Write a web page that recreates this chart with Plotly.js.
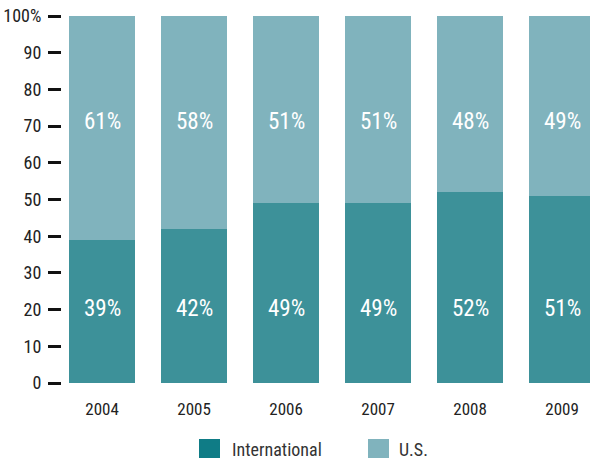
<!DOCTYPE html>
<html><head><meta charset="utf-8">
<script src="https://cdn.plot.ly/plotly-3.0.1.min.js"></script>
<style>html,body{margin:0;padding:0;background:#fff}#chart{width:590px;height:459px}</style>
</head><body><div id="chart"></div>
<script>
var years = ['2004','2005','2006','2007','2008','2009'];
var international = [39, 42, 49, 49, 52, 51];
var us = [61, 58, 51, 51, 48, 49];
var seriesNames = ['International', 'U.S.'];
var yTickVals = [0,10,20,30,40,50,60,70,80,90,100];
var yTickText = ['0','10','20','30','40','50','60','70','80','90','100%'];

var FONT = '"Liberation Sans Narrow", "Roboto Condensed", Roboto, sans-serif';
var cIntl = '#3d9199', cUS = '#80b3bd';
var cIntlLegend = '#0f7c86';

var traces = [
  {type:'bar', x: years, y: international, name: seriesNames[0], marker:{color:cIntl}, hoverinfo:'none'},
  {type:'bar', x: years, y: us, name: seriesNames[1], marker:{color:cUS}, hoverinfo:'none'}
];

var annotations = [];
years.forEach(function(yr, i){
  annotations.push({x: i, y: 20.3, xref:'x', yref:'y', text: international[i] + '%', showarrow:false,
    font:{family:FONT, size:23, color:'#ffffff'}});
  annotations.push({x: i, y: 71.3, xref:'x', yref:'y', text: us[i] + '%', showarrow:false,
    font:{family:FONT, size:23, color:'#ffffff'}});
});
annotations.push({xref:'paper', yref:'paper', x:(230-62)/528, y:-(449-383)/367, xanchor:'left', yanchor:'middle',
  text: seriesNames[0], showarrow:false, font:{family:FONT, size:18, color:'#333'}});
annotations.push({xref:'paper', yref:'paper', x:(397-62)/528, y:-(449-383)/367, xanchor:'left', yanchor:'middle',
  text: seriesNames[1], showarrow:false, font:{family:FONT, size:18, color:'#333'}});

var shapes = [
  {type:'rect', xref:'paper', yref:'paper', x0:(199-62)/528, x1:(220-62)/528, y0:-(458-383)/367, y1:-(439-383)/367,
   fillcolor:cIntlLegend, line:{width:0}},
  {type:'rect', xref:'paper', yref:'paper', x0:(368-62)/528, x1:(389-62)/528, y0:-(458-383)/367, y1:-(439-383)/367,
   fillcolor:cUS, line:{width:0}}
];

var layout = {
  width:590, height:459,
  margin:{l:62, r:0, t:16, b:76},
  paper_bgcolor:'#fff', plot_bgcolor:'#fff',
  barmode:'stack', bargap:0.283,
  showlegend:false,
  xaxis:{type:'category', range:[-0.435, 5.304], showgrid:false, zeroline:false, showline:false, ticks:'',
    ticklabelstandoff:14,
    tickfont:{family:FONT, size:17, color:'#222'}, fixedrange:true},
  yaxis:{range:[0,100], tickvals:yTickVals, ticktext:yTickText, showgrid:false, zeroline:false, showline:false,
    ticks:'outside', ticklen:13, tickwidth:3, tickcolor:'#111', ticklabelstandoff:3,
    tickfont:{family:FONT, size:18, color:'#222'}, fixedrange:true},
  annotations: annotations,
  shapes: shapes,
  font:{family:FONT}
};
Plotly.newPlot('chart', traces, layout, {displayModeBar:false, staticPlot:true});
</script></body></html>
